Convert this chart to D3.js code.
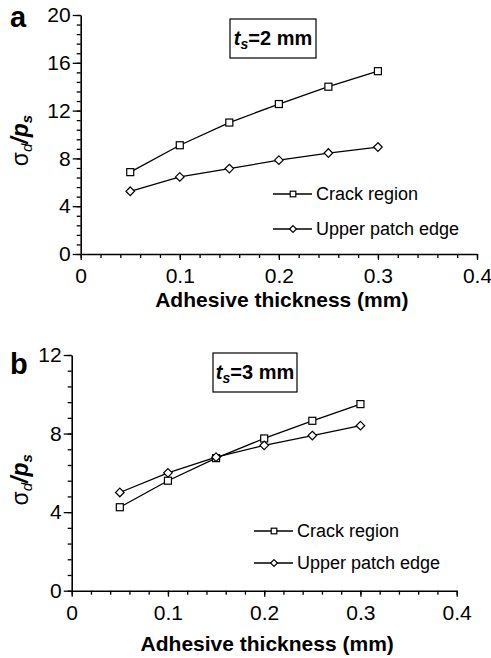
<!DOCTYPE html>
<html>
<head>
<meta charset="utf-8">
<script src="https://cdn.jsdelivr.net/npm/d3@7"></script>
<style>
  body { margin: 0; background: #fff; }
  svg { display: block; font-family: "Liberation Sans", Arial, sans-serif; }
  .axis path, .axis line { stroke: #000; }
  .axis text { font-size: 21px; fill: #000; }
</style>
</head>
<body>
<div id="chart"></div>
<script>
// adhesive thickness (mm)
const thickness = [0.05, 0.1, 0.15, 0.2, 0.25, 0.3];
// panel a, ts = 2 mm
const crackA = [6.85, 9.1, 11.0, 12.55, 14.0, 15.3];
const upperA = [5.25, 6.45, 7.15, 7.85, 8.45, 8.95];
// panel b, ts = 3 mm
const crackB = [4.25, 5.6, 6.75, 7.75, 8.65, 9.5];
const upperB = [5.0, 6.0, 6.8, 7.4, 7.9, 8.4];

const seriesNames = ["Crack region", "Upper patch edge"];
const xTicks = [0, 0.1, 0.2, 0.3, 0.4];
const yTicksA = [0, 4, 8, 12, 16, 20];
const yTicksB = [0, 4, 8, 12];

const W = 491, H = 658;

let svg = d3.select("#chart").append("svg")
    .attr("width", W)
    .attr("height", H);

function drawPanel(p) {
    let x = d3.scaleLinear().domain([0, 0.4]).range([p.left, p.right]);
    let y = d3.scaleLinear().domain([0, p.yMax]).range([p.bottom, p.top]);

    let g = svg.append("g");

    // minor ticks
    g.append("g").attr("class", "axis")
        .attr("transform", `translate(0,${p.bottom})`)
        .call(d3.axisBottom(x).tickValues(d3.range(0, 21).map(i => i * 0.02))
            .tickSize(4).tickFormat(""))
        .select(".domain").remove();
    g.append("g").attr("class", "axis")
        .attr("transform", `translate(${p.left},0)`)
        .call(d3.axisLeft(y).tickValues(d3.range(0, Math.round(p.yMax / 0.8) + 1).map(i => i * 0.8))
            .tickSize(4).tickFormat(""))
        .select(".domain").remove();

    // major axes
    g.append("g").attr("class", "axis")
        .attr("transform", `translate(0,${p.bottom})`)
        .call(d3.axisBottom(x).tickValues(xTicks).tickSizeInner(6).tickSizeOuter(0)
            .tickPadding(8).tickFormat(d => d === 0 ? "0" : d3.format(".1f")(d)));
    g.append("g").attr("class", "axis")
        .attr("transform", `translate(${p.left},0)`)
        .call(d3.axisLeft(y).tickValues(p.yTicks).tickSizeInner(8).tickSizeOuter(0)
            .tickPadding(2));
    g.selectAll(".axis .domain").attr("stroke-width", 1.6);
    g.selectAll(".axis line").attr("stroke-width", 1.3);

    // axis titles
    g.append("text")
        .attr("x", (p.left + p.right) / 2 + 3)
        .attr("y", p.bottom + p.titleDy)
        .attr("text-anchor", "middle")
        .attr("font-size", 21)
        .attr("font-weight", "bold")
        .text("Adhesive thickness (mm)");

    let yl = g.append("text")
        .attr("transform", `translate(${p.ylabX},${(p.top + p.bottom) / 2 + p.ylabDy}) rotate(-90)`)
        .attr("text-anchor", "middle")
        .attr("font-size", 23);
    yl.append("tspan").text("σ");
    yl.append("tspan").attr("font-style", "italic").attr("font-size", 15).attr("dy", 4).text("d");
    yl.append("tspan").attr("font-style", "italic").attr("font-weight", "bold").attr("dy", -4).text("/p");
    yl.append("tspan").attr("font-style", "italic").attr("font-weight", "bold").attr("font-size", 15).attr("dy", 4).text("s");

    // panel letter
    g.append("text")
        .attr("x", 10)
        .attr("y", p.letterY)
        .attr("font-size", 29)
        .attr("font-weight", "bold")
        .text(p.letter);

    // ts box
    g.append("rect")
        .attr("x", p.box[0]).attr("y", p.box[1])
        .attr("width", p.box[2]).attr("height", p.box[3])
        .attr("fill", "#fff").attr("stroke", "#000").attr("stroke-width", 1.2);
    let bt = g.append("text")
        .attr("x", p.box[0] + p.box[2] / 2)
        .attr("y", p.box[1] + p.box[3] / 2 + 6)
        .attr("text-anchor", "middle")
        .attr("font-size", 20)
        .attr("font-weight", "bold");
    bt.append("tspan").attr("font-style", "italic").text("t");
    bt.append("tspan").attr("font-style", "italic").attr("font-size", 14).attr("dy", 4).text("s");
    bt.append("tspan").attr("dy", -4).text("=" + p.ts + " mm");

    // series
    let line = d3.line().x(d => x(d[0])).y(d => y(d[1]));
    let series = [p.crack, p.upper].map(vals => thickness.map((t, i) => [t, vals[i]]));
    series.forEach((pts, si) => {
        g.append("path")
            .attr("d", line(pts))
            .attr("fill", "none")
            .attr("stroke", "#000")
            .attr("stroke-width", 1.3);
        pts.forEach(d => marker(g, x(d[0]), y(d[1]), si));
    });

    // legend
    seriesNames.forEach((name, i) => {
        let ly = p.legY[i];
        g.append("line")
            .attr("x1", p.legX).attr("x2", p.legX + 39)
            .attr("y1", ly).attr("y2", ly)
            .attr("stroke", "#000").attr("stroke-width", 1.3);
        marker(g, p.legX + 20, ly, i, 0.8);
        g.append("text")
            .attr("x", p.legX + 43)
            .attr("y", ly + 6)
            .attr("font-size", 18)
            .text(name);
    });
}

function marker(g, cx, cy, type, s = 1) {
    if (type === 0) {
        let a = 7 * s;
        g.append("rect")
            .attr("x", cx - a / 2).attr("y", cy - a / 2)
            .attr("width", a).attr("height", a)
            .attr("fill", "#fff").attr("stroke", "#000").attr("stroke-width", 1.2);
    } else {
        let r = 4.3 * s;
        g.append("path")
            .attr("d", `M${cx},${cy - r}L${cx + r},${cy}L${cx},${cy + r}L${cx - r},${cy}Z`)
            .attr("fill", "#fff").attr("stroke", "#000").attr("stroke-width", 1.2);
    }
}

drawPanel({
    letter: "a", letterY: 27, ts: 2,
    left: 80.7, right: 477, top: 15, bottom: 254, yMax: 20, yTicks: yTicksA,
    crack: crackA, upper: upperA,
    titleDy: 53, ylabX: 28, ylabDy: 6,
    box: [230, 19, 86, 39],
    legX: 273, legY: [194, 229]
});

drawPanel({
    letter: "b", letterY: 374, ts: 3,
    left: 71.7, right: 456.7, top: 355, bottom: 590.7, yMax: 12, yTicks: yTicksB,
    crack: crackB, upper: upperB,
    titleDy: 60, ylabX: 28, ylabDy: 7,
    box: [213, 353, 84, 39],
    legX: 254, legY: [531, 563]
});
</script>
</body>
</html>
